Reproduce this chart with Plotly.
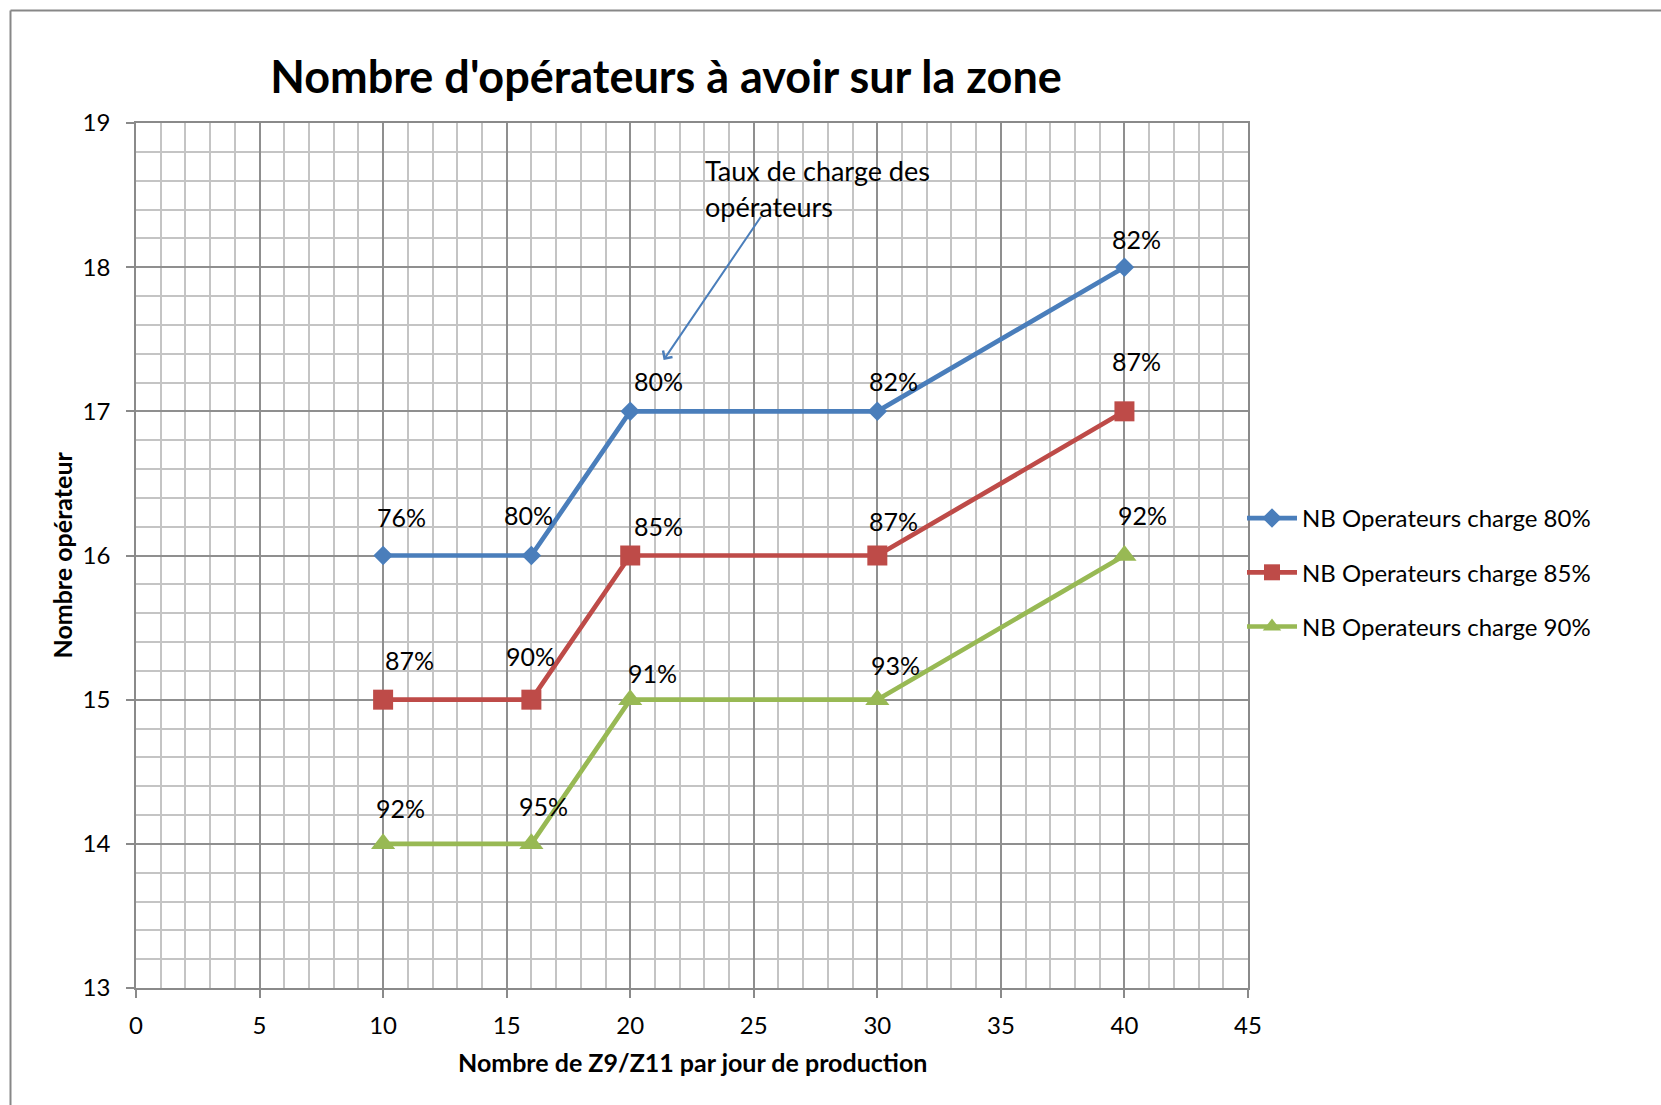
import plotly.graph_objects as go

# Production volume (Z9/Z11 per day) and operators needed for each target load rate
volumes = [10, 16, 20, 30, 40]
series_names = ["NB Operateurs charge 80%", "NB Operateurs charge 85%", "NB Operateurs charge 90%"]
operators_80 = [16, 16, 17, 17, 18]
operators_85 = [15, 15, 16, 16, 17]
operators_90 = [14, 14, 15, 15, 16]
load_80 = ["76%", "80%", "80%", "82%", "82%"]
load_85 = ["87%", "90%", "85%", "87%", "87%"]
load_90 = ["92%", "95%", "91%", "93%", "92%"]

FONT = "Lato, 'Open Sans', sans-serif"
W, H = 1661, 1105
ML, MR, MT, MB = 136, 413, 123, 117

styles = [
    dict(color="#4A7EBB", symbol="diamond", size=15),
    dict(color="#BE4B48", symbol="square", size=20),
    dict(color="#98B954", symbol="triangle-up", size=21),
]
# pixel offsets of the load-rate labels relative to their point
label_shift = [
    [(18, 39), (-3, 41), (28, 30), (16, 30), (12, 28)],
    [(26, 40), (-1, 44), (28, 30), (16, 35), (12, 50)],
    [(17, 36), (12, 38), (22, 27), (18, 35), (18, 41)],
]

fig = go.Figure()
annotations = []
for name, ys, labels, st, shifts in zip(
    series_names,
    [operators_80, operators_85, operators_90],
    [load_80, load_85, load_90],
    styles,
    label_shift,
):
    fig.add_trace(go.Scatter(
        x=volumes, y=ys, name=name, mode="lines+markers",
        legendgroup=name,
        line=dict(color=st["color"], width=4.7),
        marker=dict(symbol=st["symbol"], size=st["size"], color=st["color"],
                    line=dict(width=0)),
        cliponaxis=False,
    ))
    for xv, yv, lab, (dx, dy) in zip(volumes, ys, labels, shifts):
        annotations.append(dict(
            x=xv, y=yv, xref="x", yref="y", text=lab, showarrow=False,
            xshift=dx, yshift=dy, font=dict(family=FONT, size=25, color="#000"),
        ))

# callout pointing at the load-rate labels
annotations.append(dict(
    x=21.35, y=17.356, xref="x", yref="y", ax=25.33, ay=18.36, axref="x", ayref="y",
    text="", showarrow=True, arrowhead=4, arrowsize=1.1, arrowwidth=2,
    arrowcolor="#4A7EBB", standoff=0, startstandoff=0,
))
for i, line in enumerate(["Taux de charge des", "opérateurs"]):
    annotations.append(dict(
        x=703, y=171 + 36 * i, xref="x domain", yref="paper", text=line, showarrow=False,
        font=dict(family=FONT, size=27, color="#000"), xanchor="left", yanchor="middle",
    ))

# axis titles
annotations.append(dict(
    x=0, y=0.5, xref="paper", yref="paper", xshift=-75, text="<b>Nombre opérateur</b>",
    textangle=-90, showarrow=False, font=dict(family=FONT, size=25, color="#000"),
    xanchor="center", yanchor="middle",
))
annotations.append(dict(
    x=0.5, y=0, xref="paper", yref="paper", yshift=-74,
    text="<b>Nombre de Z9/Z11 par jour de production</b>",
    showarrow=False, font=dict(family=FONT, size=25, color="#000"),
    xanchor="center", yanchor="middle",
))

# convert the text positions from pixels to paper fractions
pw, ph = W - ML - MR, H - MT - MB
for a in annotations:
    if a.get("xref") == "x domain":
        a["xref"] = "paper"
        a["x"] = (a["x"] - ML) / pw
        a["y"] = (H - MB - a["y"]) / ph

frame_left = (10.5 - ML) / pw
frame_top = (H - MB - 10.5) / ph
shapes = [
    dict(type="line", xref="paper", yref="paper", x0=frame_left, x1=1.5,
         y0=frame_top, y1=frame_top, line=dict(color="#878787", width=2)),
    dict(type="line", xref="paper", yref="paper", x0=frame_left, x1=frame_left,
         y0=frame_top, y1=-0.3, line=dict(color="#878787", width=2)),
]

axis_common = dict(
    showline=True, linecolor="#8a8a8a", linewidth=1.5, mirror=True,
    ticks="outside", ticklen=8, tickwidth=1.5, tickcolor="#8a8a8a",
    showgrid=True, gridcolor="#8f8f8f", gridwidth=1.5, zeroline=False,
    tickfont=dict(family=FONT, size=24, color="#000"),
)

fig.update_layout(
    width=W, height=H,
    margin=dict(l=ML, r=MR, t=MT, b=MB, pad=0),
    paper_bgcolor="white", plot_bgcolor="white",
    title=dict(
        text="<b>Nombre d'opérateurs à avoir sur la zone</b>",
        x=666 / W, xanchor="center",
        y=1 - 77 / H, yanchor="middle", yref="container",
        font=dict(family=FONT, size=45, color="#000"),
    ),
    xaxis=dict(range=[0, 45], dtick=5, tick0=0, ticklabelstandoff=7,
               minor=dict(dtick=1, showgrid=True, gridcolor="#c4c4c4", gridwidth=1.5, ticklen=0),
               **axis_common),
    yaxis=dict(range=[13, 19], dtick=1, tick0=13, ticklabelstandoff=11,
               minor=dict(dtick=0.2, showgrid=True, gridcolor="#c4c4c4", gridwidth=1.5, ticklen=0),
               **axis_common),
    legend=dict(
        x=(1242 - ML) / pw, y=(H - MB - 496) / ph, xanchor="left", yanchor="top",
        font=dict(family=FONT, size=24, color="#000"),
        tracegroupgap=20, itemwidth=50, bgcolor="rgba(0,0,0,0)",
    ),
    annotations=annotations,
    shapes=shapes,
    showlegend=True,
)

fig.write_html("out.html")
